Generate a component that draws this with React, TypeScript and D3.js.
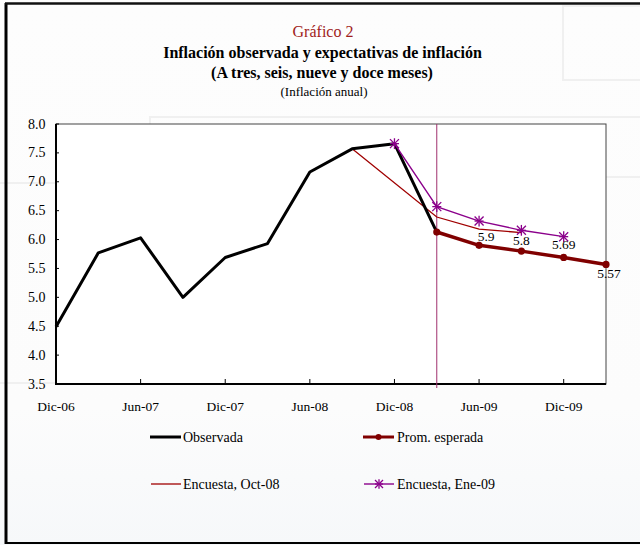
import React from "react";
import * as d3 from "d3";

const categories = ["Dic-06","Mar-07","Jun-07","Sep-07","Dic-07","Mar-08","Jun-08","Sep-08","Dic-08","Mar-09","Jun-09","Sep-09","Dic-09","Mar-10"];
const xTickLabels = ["Dic-06","Jun-07","Dic-07","Jun-08","Dic-08","Jun-09","Dic-09"];
const yTicks = [3.5,4.0,4.5,5.0,5.5,6.0,6.5,7.0,7.5,8.0];

const observada: (number|null)[] = [4.49,5.77,6.03,5.0,5.69,5.93,7.17,7.57,7.66,6.13,null,null,null,null];
const promEsperada: (number|null)[] = [null,null,null,null,null,null,null,null,null,6.13,5.9,5.8,5.69,5.57];
const promLabels: (string|null)[] = [null,null,null,null,null,null,null,null,null,null,"5.9","5.8","5.69","5.57"];
const encuestaOct: (number|null)[] = [null,null,null,null,null,null,null,7.57,null,6.39,6.18,6.12,null,null];
const encuestaEne: (number|null)[] = [null,null,null,null,null,null,null,null,7.66,6.57,6.32,6.16,6.05,null];

const FONT = "Liberation Serif, serif";

function Asterisk({ x, y, s, color }: { x: number; y: number; s: number; color: string }) {
  return (
    <g stroke={color} strokeWidth={1.3}>
      <line x1={x - s} y1={y - s} x2={x + s} y2={y + s} />
      <line x1={x - s} y1={y + s} x2={x + s} y2={y - s} />
      <line x1={x} y1={y - s * 1.2} x2={x} y2={y + s * 1.2} />
      <line x1={x - s} y1={y} x2={x + s} y2={y} />
    </g>
  );
}

export default function App() {
  const W = 640, H = 545;
  const left = 56, right = 606, top = 124, bottom = 384;
  const x = d3.scalePoint<string>().domain(categories).range([left, right]);
  const y = d3.scaleLinear().domain([3.5, 8]).range([bottom, top]);

  const mk = (arr: (number|null)[]) => {
    const pts = categories.map((c, i) => [c, arr[i]] as [string, number|null]).filter(p => p[1] != null) as [string, number][];
    return d3.line<[string, number]>().x(p => x(p[0])!).y(p => y(p[1]))(pts) || "";
  };
  const pts = (arr: (number|null)[]) => categories.map((c, i) => ({ c, v: arr[i], i })).filter(p => p.v != null) as { c: string; v: number; i: number }[];

  const vlineX = x("Mar-09")!;
  const darkRed = "#800000";
  const red = "#a00000";
  const purple = "#8b008b";
  const vColor = "#a0306e";
  const ts = { fontFamily: FONT } as React.CSSProperties;
  const labelDx: Record<number, number> = { 10: 7, 11: 0, 12: 0, 13: 3 };
  const labelDy: Record<number, number> = { 10: -4, 11: -6, 12: -8, 13: 14 };

  return (
    <svg width={W} height={H} style={{ position: "absolute", left: 0, top: 0, fontFamily: FONT }}>
      <defs>
        <linearGradient id="bg" x1="0" y1="0" x2="0" y2="1">
          <stop offset="0" stopColor="#fdfdfd" />
          <stop offset="0.75" stopColor="#fcfcfc" />
          <stop offset="1" stopColor="#f6f8fa" />
        </linearGradient>
      </defs>
      <rect x={0} y={0} width={W} height={H} fill="url(#bg)" />
      {/* faint watermark blocks */}
      <g fill="none" stroke="#f0f0f0" strokeWidth={2}>
        <rect x={563} y={6} width={80} height={74} />
        <rect x={150} y={117} width={500} height={60} />
        <rect x={-2} y={183} width={150} height={200} />
      </g>
      {/* outer frame */}
      <line x1={6} y1={3} x2={6} y2={544} stroke="#000" strokeWidth={3} />
      <line x1={5} y1={3.5} x2={640} y2={3.5} stroke="#111" strokeWidth={2.5} />
      <line x1={5} y1={543} x2={640} y2={543} stroke="#000" strokeWidth={2} />

      {/* titles */}
      <text style={ts} x={323} y={37} textAnchor="middle" fontSize={16} fill="#a01c1c">Gráfico 2</text>
      <text style={ts} x={322.5} y={57.5} textAnchor="middle" fontSize={16} fontWeight="bold" fill="#000">Inflación observada y expectativas de inflación</text>
      <text style={ts} x={322} y={78} textAnchor="middle" fontSize={16} fontWeight="bold" fill="#000">(A tres, seis, nueve y doce meses)</text>
      <text style={ts} x={324} y={96} textAnchor="middle" fontSize={13} fill="#000">(Inflación anual)</text>

      {/* plot area */}
      <rect x={left} y={top} width={right - left} height={bottom - top} fill="#ffffff" stroke="#444" strokeWidth={1} />
      <line x1={left} y1={top} x2={left} y2={bottom + 1} stroke="#000" strokeWidth={2} />
      <line x1={left - 1} y1={bottom} x2={right} y2={bottom} stroke="#000" strokeWidth={2} />

      {/* y ticks */}
      {yTicks.map(t => (
        <g key={t}>
          <line x1={left} x2={left + 3} y1={y(t)} y2={y(t)} stroke="#000" strokeWidth={1} />
          <text style={ts} x={45.5} y={y(t) + 4.5} textAnchor="end" fontSize={14} fill="#000">{t.toFixed(1)}</text>
        </g>
      ))}
      {/* x ticks */}
      {xTickLabels.map(c => (
        <g key={c}>
          <line x1={x(c)!} x2={x(c)!} y1={bottom} y2={bottom - 5} stroke="#000" strokeWidth={1} />
          <text style={ts} x={x(c)!} y={411} textAnchor="middle" fontSize={13.5} fill="#000">{c}</text>
        </g>
      ))}

      {/* vertical line */}
      <line x1={vlineX} x2={vlineX} y1={top} y2={bottom + 4} stroke={vColor} strokeWidth={1} />

      {/* series */}
      <path d={mk(encuestaOct)} fill="none" stroke={red} strokeWidth={1.3} />
      <path d={mk(observada)} fill="none" stroke="#000" strokeWidth={3} strokeLinejoin="round" />
      <path d={mk(encuestaEne)} fill="none" stroke={purple} strokeWidth={1.4} />
      {pts(encuestaEne).map(p => (
        <Asterisk key={p.c} x={x(p.c)!} y={y(p.v)} s={4.5} color={purple} />
      ))}
      <path d={mk(promEsperada)} fill="none" stroke={darkRed} strokeWidth={3.5} strokeLinejoin="round" />
      {pts(promEsperada).map(p => (
        <circle key={p.c} cx={x(p.c)!} cy={y(p.v)} r={3.6} fill={darkRed} />
      ))}
      {pts(promEsperada).map(p => promLabels[p.i] ? (
        <text style={ts} key={p.c} x={x(p.c)! + (labelDx[p.i] || 0)} y={y(p.v) + (labelDy[p.i] || 0)} textAnchor="middle" fontSize={13.5} fill="#000">{promLabels[p.i]}</text>
      ) : null)}

      {/* legend */}
      <g fontSize={14} fill="#000">
        <line x1={150} x2={181} y1={437} y2={437} stroke="#000" strokeWidth={3} />
        <text style={ts} x={183} y={442}>Observada</text>
        <line x1={363} x2={394} y1={437} y2={437} stroke={darkRed} strokeWidth={3} />
        <circle cx={378.5} cy={437} r={3} fill={darkRed} />
        <text style={ts} x={397} y={442}>Prom. esperada</text>
        <line x1={151} x2={181} y1={484} y2={484} stroke={red} strokeWidth={1.3} />
        <text style={ts} x={183} y={489}>Encuesta, Oct-08</text>
        <line x1={364} x2={394} y1={484} y2={484} stroke={purple} strokeWidth={1.4} />
        <Asterisk x={379} y={484} s={4} color={purple} />
        <text style={ts} x={397} y={489}>Encuesta, Ene-09</text>
      </g>
    </svg>
  );
}
